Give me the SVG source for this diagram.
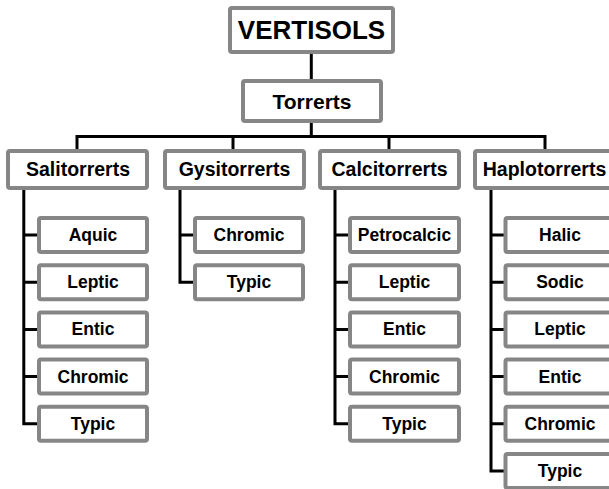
<svg xmlns="http://www.w3.org/2000/svg" width="609" height="489" viewBox="0 0 609 489">
<style>
.box{fill:#fff;stroke:#868686;stroke-width:4;}
.ln{fill:none;stroke:#000;stroke-width:3;stroke-linejoin:miter;}
text{font-family:"Liberation Sans",Arial,sans-serif;font-weight:bold;fill:#000;text-anchor:middle;}
.t0{font-size:26px;}
.t1{font-size:21px;}
.t2{font-size:19.5px;}
.t3{font-size:17.5px;}
</style>
<rect width="609" height="489" fill="#fff"/>
<g id="connectors">
<path class="ln" d="M311.3 53 V80"/>
<path class="ln" d="M311.3 122 V136.5"/>
<path class="ln" d="M77 150 V136.5 H545 V150"/>
<path class="ln" d="M233 136.5 V150"/>
<path class="ln" d="M389 136.5 V150"/>
<path class="ln" d="M23.8 189 V423.8 H39"/>
<path class="ln" d="M23.8 235 H39 M23.8 282.2 H39 M23.8 329.4 H39 M23.8 376.6 H39"/>
<path class="ln" d="M180 189 V282.2 H195"/>
<path class="ln" d="M180 235 H195"/>
<path class="ln" d="M335 189 V423.8 H350"/>
<path class="ln" d="M335 235 H350 M335 282.2 H350 M335 329.4 H350 M335 376.6 H350"/>
<path class="ln" d="M491 189 V471 H505"/>
<path class="ln" d="M491 235 H505 M491 282.2 H505 M491 329.4 H505 M491 376.6 H505 M491 423.8 H505"/>
</g>
<g id="vertisols"><rect class="box" x="230" y="8" width="163" height="44" rx="2"/><text class="t0" x="311.5" y="38.5">VERTISOLS</text></g>
<g id="torrerts"><rect class="box" x="243" y="81" width="138" height="40" rx="2"/><text class="t1" x="312" y="108.5">Torrerts</text></g>
<g id="salitorrerts"><rect class="box" x="8" y="151" width="139" height="37" rx="2"/><text class="t2" x="78" y="176">Salitorrerts</text></g>
<g id="gysitorrerts"><rect class="box" x="165" y="151" width="139" height="37" rx="2"/><text class="t2" x="234.5" y="176">Gysitorrerts</text></g>
<g id="calcitorrerts"><rect class="box" x="320" y="151" width="139" height="37" rx="2"/><text class="t2" x="389.5" y="176">Calcitorrerts</text></g>
<g id="haplotorrerts"><rect class="box" x="475" y="151" width="139" height="37" rx="2"/><text class="t2" x="544.5" y="176">Haplotorrerts</text></g>
<g id="sal-aquic"><rect class="box" x="39" y="218" width="108" height="34" rx="2"/><text class="t3" x="93" y="241">Aquic</text></g>
<g id="sal-leptic"><rect class="box" x="39" y="265.2" width="108" height="34" rx="2"/><text class="t3" x="93" y="288.2">Leptic</text></g>
<g id="sal-entic"><rect class="box" x="39" y="312.4" width="108" height="34" rx="2"/><text class="t3" x="93" y="335.4">Entic</text></g>
<g id="sal-chromic"><rect class="box" x="39" y="359.6" width="108" height="34" rx="2"/><text class="t3" x="93" y="382.6">Chromic</text></g>
<g id="sal-typic"><rect class="box" x="39" y="406.8" width="108" height="34" rx="2"/><text class="t3" x="93" y="429.8">Typic</text></g>
<g id="gys-chromic"><rect class="box" x="195" y="218" width="108" height="34" rx="2"/><text class="t3" x="249" y="241">Chromic</text></g>
<g id="gys-typic"><rect class="box" x="195" y="265.2" width="108" height="34" rx="2"/><text class="t3" x="249" y="288.2">Typic</text></g>
<g id="cal-petrocalcic"><rect class="box" x="350" y="218" width="109" height="34" rx="2"/><text class="t3" x="404.5" y="241">Petrocalcic</text></g>
<g id="cal-leptic"><rect class="box" x="350" y="265.2" width="109" height="34" rx="2"/><text class="t3" x="404.5" y="288.2">Leptic</text></g>
<g id="cal-entic"><rect class="box" x="350" y="312.4" width="109" height="34" rx="2"/><text class="t3" x="404.5" y="335.4">Entic</text></g>
<g id="cal-chromic"><rect class="box" x="350" y="359.6" width="109" height="34" rx="2"/><text class="t3" x="404.5" y="382.6">Chromic</text></g>
<g id="cal-typic"><rect class="box" x="350" y="406.8" width="109" height="34" rx="2"/><text class="t3" x="404.5" y="429.8">Typic</text></g>
<g id="hap-halic"><rect class="box" x="505.5" y="218" width="109" height="34" rx="2"/><text class="t3" x="560" y="241">Halic</text></g>
<g id="hap-sodic"><rect class="box" x="505.5" y="265.2" width="109" height="34" rx="2"/><text class="t3" x="560" y="288.2">Sodic</text></g>
<g id="hap-leptic"><rect class="box" x="505.5" y="312.4" width="109" height="34" rx="2"/><text class="t3" x="560" y="335.4">Leptic</text></g>
<g id="hap-entic"><rect class="box" x="505.5" y="359.6" width="109" height="34" rx="2"/><text class="t3" x="560" y="382.6">Entic</text></g>
<g id="hap-chromic"><rect class="box" x="505.5" y="406.8" width="109" height="34" rx="2"/><text class="t3" x="560" y="429.8">Chromic</text></g>
<g id="hap-typic"><rect class="box" x="505.5" y="454" width="109" height="34" rx="2"/><text class="t3" x="560" y="477">Typic</text></g>
</svg>
